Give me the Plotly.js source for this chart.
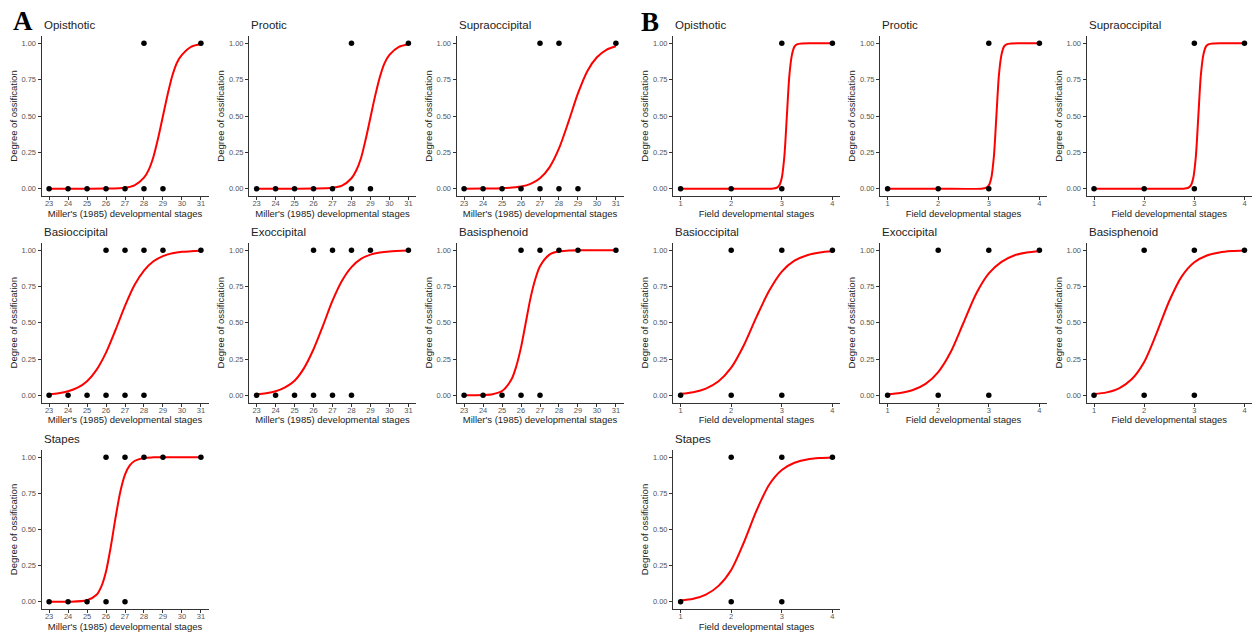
<!DOCTYPE html>
<html>
<head>
<meta charset="utf-8">
<script src="https://cdn.plot.ly/plotly-3.0.1.min.js"></script>
<style>
  html, body { margin: 0; padding: 0; background: #ffffff; }
  #chart { width: 1252px; height: 635px; }
</style>
</head>
<body>
<div id="chart"></div>
<script>
// ---------- tick / category data ----------
const millerStages = [23, 24, 25, 26, 27, 28, 29, 30, 31];
const fieldStages = [1, 2, 3, 4];
const yTickVals = [0, 0.25, 0.5, 0.75, 1];
const yTickLabels = ['0.00', '0.25', '0.50', '0.75', '1.00'];
const boneNames = ['Opisthotic', 'Prootic', 'Supraoccipital', 'Basioccipital', 'Exoccipital', 'Basisphenoid', 'Stapes'];
const millerTitle = "Miller's (1985) developmental stages";
const fieldTitle = 'Field developmental stages';
const yTitle = 'Degree of ossification';

// ---------- observed points (panel A, Miller stages) ----------
const aOpisthoticX = [23, 24, 25, 26, 27, 28, 29, 28, 31];
const aOpisthoticY = [0, 0, 0, 0, 0, 0, 0, 1, 1];
const aProoticX = [23, 24, 25, 26, 27, 28, 29, 28, 31];
const aProoticY = [0, 0, 0, 0, 0, 0, 0, 1, 1];
const aSupraoccipitalX = [23, 24, 25, 26, 27, 28, 29, 27, 28, 31];
const aSupraoccipitalY = [0, 0, 0, 0, 0, 0, 0, 1, 1, 1];
const aBasioccipitalX = [23, 24, 25, 26, 27, 28, 26, 27, 28, 29, 31];
const aBasioccipitalY = [0, 0, 0, 0, 0, 0, 1, 1, 1, 1, 1];
const aExoccipitalX = [23, 24, 25, 26, 27, 28, 26, 27, 28, 29, 31];
const aExoccipitalY = [0, 0, 0, 0, 0, 0, 1, 1, 1, 1, 1];
const aBasisphenoidX = [23, 24, 25, 26, 27, 26, 27, 28, 29, 31];
const aBasisphenoidY = [0, 0, 0, 0, 0, 1, 1, 1, 1, 1];
const aStapesX = [23, 24, 25, 26, 27, 26, 27, 28, 29, 31];
const aStapesY = [0, 0, 0, 0, 0, 1, 1, 1, 1, 1];

// ---------- observed points (panel B, field stages) ----------
const bOpisthoticX = [1, 2, 3, 3, 4];
const bOpisthoticY = [0, 0, 0, 1, 1];
const bProoticX = [1, 2, 3, 3, 4];
const bProoticY = [0, 0, 0, 1, 1];
const bSupraoccipitalX = [1, 2, 3, 3, 4];
const bSupraoccipitalY = [0, 0, 0, 1, 1];
const bBasioccipitalX = [1, 2, 3, 2, 3, 4];
const bBasioccipitalY = [0, 0, 0, 1, 1, 1];
const bExoccipitalX = [1, 2, 3, 2, 3, 4];
const bExoccipitalY = [0, 0, 0, 1, 1, 1];
const bBasisphenoidX = [1, 2, 3, 2, 3, 4];
const bBasisphenoidY = [0, 0, 0, 1, 1, 1];
const bStapesX = [1, 2, 3, 2, 3, 4];
const bStapesY = [0, 0, 0, 1, 1, 1];

// ---------- fitted curves, values ----------
const aOpisthoticCurveX = [23, 24, 25, 26, 27, 27.5, 28, 28.25, 28.5, 28.75, 29, 29.25, 29.5, 29.75, 30, 30.5, 31];
const aOpisthoticCurveY = [0.000, 0.000, 0.000, 0.001, 0.007, 0.023, 0.076, 0.13, 0.22, 0.35, 0.50, 0.65, 0.78, 0.87, 0.92, 0.977, 0.993];
const aProoticCurveX = [23, 24, 25, 26, 27, 27.5, 28, 28.25, 28.5, 28.75, 29, 29.25, 29.5, 29.75, 30, 30.5, 31];
const aProoticCurveY = [0.000, 0.000, 0.000, 0.001, 0.006, 0.021, 0.072, 0.125, 0.21, 0.34, 0.49, 0.64, 0.77, 0.865, 0.92, 0.975, 0.993];
const aSupraoccipitalCurveX = [23, 24, 25, 26, 26.5, 27, 27.5, 28, 28.5, 29, 29.5, 30, 30.5, 31];
const aSupraoccipitalCurveY = [0.000, 0.001, 0.003, 0.015, 0.033, 0.072, 0.147, 0.277, 0.46, 0.655, 0.81, 0.904, 0.955, 0.979];
const aBasioccipitalCurveX = [23, 23.5, 24, 24.5, 25, 25.5, 26, 26.5, 27, 27.5, 28, 28.5, 29, 29.5, 30, 31];
const aBasioccipitalCurveY = [0.007, 0.014, 0.027, 0.052, 0.097, 0.175, 0.294, 0.45, 0.616, 0.76, 0.86, 0.924, 0.96, 0.979, 0.989, 0.997];
const aExoccipitalCurveX = [23, 23.5, 24, 24.5, 25, 25.5, 26, 26.5, 27, 27.5, 28, 28.5, 29, 29.5, 30, 31];
const aExoccipitalCurveY = [0.007, 0.014, 0.027, 0.054, 0.10, 0.187, 0.317, 0.48, 0.652, 0.79, 0.884, 0.94, 0.97, 0.985, 0.992, 0.998];
const aBasisphenoidCurveX = [23, 24, 24.5, 25, 25.5, 25.75, 26, 26.25, 26.5, 26.75, 27, 27.5, 28, 28.5, 29, 30, 31];
const aBasisphenoidCurveY = [0.000, 0.002, 0.007, 0.029, 0.11, 0.20, 0.33, 0.50, 0.67, 0.80, 0.89, 0.97, 0.993, 0.998, 1.0, 1.0, 1.0];
const aStapesCurveX = [23, 24, 25, 25.5, 25.75, 26, 26.25, 26.5, 26.75, 27, 27.25, 27.5, 28, 28.5, 29, 30, 31];
const aStapesCurveY = [0.000, 0.000, 0.010, 0.048, 0.105, 0.21, 0.38, 0.58, 0.76, 0.88, 0.943, 0.974, 0.995, 0.999, 1.0, 1.0, 1.0];

const bOpisthoticCurveX = [1, 2, 2.8, 2.9, 2.95, 3.0, 3.05, 3.1, 3.15, 3.2, 3.25, 3.3, 3.4, 3.6, 4];
const bOpisthoticCurveY = [0.000, 0.000, 0.0006, 0.0067, 0.023, 0.076, 0.22, 0.50, 0.78, 0.92, 0.977, 0.993, 0.999, 1.0, 1.0];
const bProoticCurveX = [1, 2, 2.85, 2.95, 3.0, 3.05, 3.1, 3.15, 3.2, 3.25, 3.3, 3.35, 3.45, 3.65, 4];
const bProoticCurveY = [0.000, 0.000, 0.0006, 0.0067, 0.023, 0.076, 0.22, 0.50, 0.78, 0.92, 0.977, 0.993, 0.999, 1.0, 1.0];
const bSupraoccipitalCurveX = [1, 2, 2.78, 2.88, 2.93, 2.98, 3.03, 3.08, 3.13, 3.18, 3.23, 3.28, 3.38, 3.58, 4];
const bSupraoccipitalCurveY = [0.000, 0.000, 0.0006, 0.0067, 0.023, 0.076, 0.22, 0.50, 0.78, 0.92, 0.977, 0.993, 0.999, 1.0, 1.0];
const bBasioccipitalCurveX = [1, 1.25, 1.5, 1.75, 2, 2.25, 2.5, 2.75, 3, 3.25, 3.5, 3.75, 4];
const bBasioccipitalCurveY = [0.0096, 0.021, 0.046, 0.096, 0.19, 0.345, 0.54, 0.72, 0.853, 0.928, 0.966, 0.985, 0.993];
const bExoccipitalCurveX = [1, 1.25, 1.5, 1.75, 2, 2.25, 2.5, 2.75, 3, 3.25, 3.5, 3.75, 4];
const bExoccipitalCurveY = [0.007, 0.016, 0.036, 0.078, 0.16, 0.30, 0.50, 0.70, 0.84, 0.92, 0.964, 0.984, 0.993];
const bBasisphenoidCurveX = [1, 1.25, 1.5, 1.75, 2, 2.25, 2.5, 2.75, 3, 3.25, 3.5, 3.75, 4];
const bBasisphenoidCurveY = [0.008, 0.02, 0.048, 0.11, 0.23, 0.43, 0.65, 0.82, 0.917, 0.964, 0.985, 0.994, 0.998];
const bStapesCurveX = [1, 1.25, 1.5, 1.75, 2, 2.25, 2.5, 2.75, 3, 3.25, 3.5, 3.75, 4];
const bStapesCurveY = [0.009, 0.021, 0.05, 0.11, 0.22, 0.41, 0.63, 0.81, 0.912, 0.962, 0.985, 0.994, 0.998];

// ---------- assemble panels ----------
const panels = [
  {g: 'A', name: boneNames[0], px: aOpisthoticX, py: aOpisthoticY, cx: aOpisthoticCurveX, cy: aOpisthoticCurveY, col: 0, row: 0},
  {g: 'A', name: boneNames[1], px: aProoticX, py: aProoticY, cx: aProoticCurveX, cy: aProoticCurveY, col: 1, row: 0},
  {g: 'A', name: boneNames[2], px: aSupraoccipitalX, py: aSupraoccipitalY, cx: aSupraoccipitalCurveX, cy: aSupraoccipitalCurveY, col: 2, row: 0},
  {g: 'A', name: boneNames[3], px: aBasioccipitalX, py: aBasioccipitalY, cx: aBasioccipitalCurveX, cy: aBasioccipitalCurveY, col: 0, row: 1},
  {g: 'A', name: boneNames[4], px: aExoccipitalX, py: aExoccipitalY, cx: aExoccipitalCurveX, cy: aExoccipitalCurveY, col: 1, row: 1},
  {g: 'A', name: boneNames[5], px: aBasisphenoidX, py: aBasisphenoidY, cx: aBasisphenoidCurveX, cy: aBasisphenoidCurveY, col: 2, row: 1},
  {g: 'A', name: boneNames[6], px: aStapesX, py: aStapesY, cx: aStapesCurveX, cy: aStapesCurveY, col: 0, row: 2},
  {g: 'B', name: boneNames[0], px: bOpisthoticX, py: bOpisthoticY, cx: bOpisthoticCurveX, cy: bOpisthoticCurveY, col: 3, row: 0},
  {g: 'B', name: boneNames[1], px: bProoticX, py: bProoticY, cx: bProoticCurveX, cy: bProoticCurveY, col: 4, row: 0},
  {g: 'B', name: boneNames[2], px: bSupraoccipitalX, py: bSupraoccipitalY, cx: bSupraoccipitalCurveX, cy: bSupraoccipitalCurveY, col: 5, row: 0},
  {g: 'B', name: boneNames[3], px: bBasioccipitalX, py: bBasioccipitalY, cx: bBasioccipitalCurveX, cy: bBasioccipitalCurveY, col: 3, row: 1},
  {g: 'B', name: boneNames[4], px: bExoccipitalX, py: bExoccipitalY, cx: bExoccipitalCurveX, cy: bExoccipitalCurveY, col: 4, row: 1},
  {g: 'B', name: boneNames[5], px: bBasisphenoidX, py: bBasisphenoidY, cx: bBasisphenoidCurveX, cy: bBasisphenoidCurveY, col: 5, row: 1},
  {g: 'B', name: boneNames[6], px: bStapesX, py: bStapesY, cx: bStapesCurveX, cy: bStapesCurveY, col: 3, row: 2}
];

// ---------- layout geometry (pixels) ----------
const W = 1252, H = 635;
const colPx = [[41.5, 208.5], [249, 416], [456.5, 623.5], [673, 840], [880, 1047], [1086.5, 1252]];
const rowPx = [[36, 196], [243, 402.5], [450, 609]];
const FONT = 'Liberation Sans, Arial, sans-serif';
const axisColor = '#333333';
const tickLabelColor = '#555555';

const traces = [];
const layout = {
  width: W, height: H,
  margin: {l: 0, r: 0, t: 0, b: 0},
  paper_bgcolor: '#ffffff',
  plot_bgcolor: '#ffffff',
  showlegend: false,
  font: {family: FONT, color: '#222222'},
  annotations: []
};

panels.forEach((p, i) => {
  const n = i + 1;
  const xa = 'x' + (n === 1 ? '' : n);
  const ya = 'y' + (n === 1 ? '' : n);
  const cx = colPx[p.col], ry = rowPx[p.row];
  const isA = p.g === 'A';
  const stages = isA ? millerStages : fieldStages;
  const xRange = isA ? [22.6, 31.4] : [0.85, 4.15];

  traces.push({
    type: 'scatter', mode: 'lines', x: p.cx, y: p.cy, xaxis: xa, yaxis: ya,
    line: {color: '#ff0000', width: 2, shape: 'spline', smoothing: 0.8},
    hoverinfo: 'skip', cliponaxis: false
  });
  traces.push({
    type: 'scatter', mode: 'markers', x: p.px, y: p.py, xaxis: xa, yaxis: ya,
    marker: {color: '#000000', size: 5.5, line: {width: 0}},
    cliponaxis: false
  });

  layout['xaxis' + (n === 1 ? '' : n)] = {
    domain: [cx[0] / W, cx[1] / W],
    range: xRange,
    anchor: ya,
    tickmode: 'array', tickvals: stages, ticktext: stages.map(String),
    showline: true, linecolor: axisColor, linewidth: 1,
    ticks: 'outside', ticklen: 3, tickwidth: 1, tickcolor: axisColor,
    ticklabelstandoff: -3,
    tickfont: {family: FONT, size: 7.5, color: tickLabelColor},
    showgrid: false, zeroline: false, fixedrange: true,
    title: {text: isA ? millerTitle : fieldTitle, font: {family: FONT, size: 9.5, color: '#222222'}, standoff: 0}
  };
  layout['yaxis' + (n === 1 ? '' : n)] = {
    domain: [1 - ry[1] / H, 1 - ry[0] / H],
    range: [-0.05, 1.05],
    anchor: xa,
    tickmode: 'array', tickvals: yTickVals, ticktext: yTickLabels,
    showline: true, linecolor: axisColor, linewidth: 1,
    ticks: 'outside', ticklen: 3, tickwidth: 1, tickcolor: axisColor,
    tickfont: {family: FONT, size: 7.5, color: tickLabelColor},
    showgrid: false, zeroline: false, fixedrange: true,
    title: {text: yTitle, font: {family: FONT, size: 9.5, color: '#222222'}, standoff: 2}
  };

  layout.annotations.push({
    text: p.name, xref: 'paper', yref: 'paper',
    x: cx[0] / W, y: 1 - (ry[0] - 11) / H, xanchor: 'left', yanchor: 'middle',
    showarrow: false, font: {family: FONT, size: 11.5, color: '#222222'}
  });
});

layout.annotations.push({
  text: '<b>A</b>', xref: 'paper', yref: 'paper', x: 23 / W, y: 1 - 21 / H,
  xanchor: 'center', yanchor: 'middle', showarrow: false,
  font: {family: 'Liberation Serif, Times New Roman, serif', size: 27, color: '#000000'}
});
layout.annotations.push({
  text: '<b>B</b>', xref: 'paper', yref: 'paper', x: 650 / W, y: 1 - 22 / H,
  xanchor: 'center', yanchor: 'middle', showarrow: false,
  font: {family: 'Liberation Serif, Times New Roman, serif', size: 27, color: '#000000'}
});

Plotly.newPlot('chart', traces, layout, {displayModeBar: false, staticPlot: true});
</script>
</body>
</html>
